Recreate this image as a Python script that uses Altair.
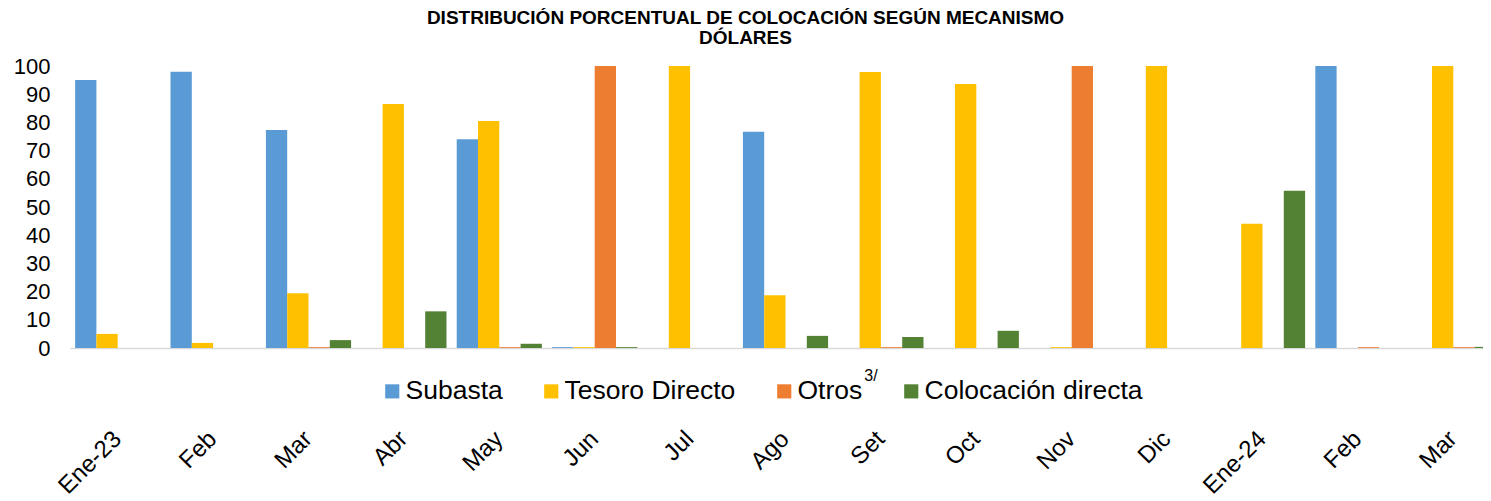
import altair as alt
import pandas as pd

# ---- data ----
meses = ["Ene-23", "Feb", "Mar", "Abr", "May", "Jun", "Jul", "Ago", "Set",
         "Oct", "Nov", "Dic", "Ene-24", "Feb", "Mar"]
series = ["Subasta", "Tesoro Directo", "Otros", "Colocación directa"]
colores = ["#5B9BD5", "#FFC000", "#ED7D31", "#548235"]

subasta = [95.0, 98.0, 77.3, 0.0, 74.0, 0.3, 0.0, 76.7, 0.0, 0.0, 0.0, 0.0, 0.0, 100.0, 0.0]
tesoro = [5.0, 1.8, 19.4, 86.5, 80.5, 0.3, 100.0, 18.7, 97.9, 93.6, 0.3, 100.0, 44.1, 0.0, 100.0]
otros = [0.0, 0.0, 0.3, 0.0, 0.3, 100.0, 0.0, 0.0, 0.3, 0.0, 100.0, 0.0, 0.0, 0.3, 0.3]
colocacion = [0.0, 0.0, 2.8, 13.0, 1.5, 0.3, 0.0, 4.3, 3.9, 6.1, 0.0, 0.0, 55.8, 0.0, 0.4]

titulo = ["DISTRIBUCIÓN PORCENTUAL DE COLOCACIÓN SEGÚN MECANISMO", "DÓLARES"]
y_ticks = [0, 10, 20, 30, 40, 50, 60, 70, 80, 90, 100]

rows = []
for serie, valores in zip(series, [subasta, tesoro, otros, colocacion]):
    for i, v in enumerate(valores):
        rows.append({"idx": i, "serie": serie, "valor": v})
df = pd.DataFrame(rows)

label_expr = "[" + ",".join("'" + m + "'" for m in meses) + "][datum.value]"
FONT = "Liberation Sans"

bars = alt.Chart(df).mark_bar().encode(
    x=alt.X(
        "idx:O",
        scale=alt.Scale(range=[0, 1431], paddingInner=0, paddingOuter=0),
        axis=alt.Axis(
            title=None,
            labelExpr=label_expr,
            labelAngle=-45,
            labelAlign="right",
            labelBaseline="middle",
            labelPadding=87,
            labelFontSize=24,
            labelFont=FONT,
            labelColor="#000000",
            ticks=False,
            domainColor="#D9D9D9",
            domainWidth=1.5,
            grid=False,
        ),
    ),
    xOffset=alt.XOffset(
        "serie:N", sort=series,
        scale=alt.Scale(paddingInner=0, paddingOuter=0.24),
    ),
    y=alt.Y(
        "valor:Q",
        scale=alt.Scale(domain=[0, 100], nice=False),
        axis=alt.Axis(
            title=None,
            values=y_ticks,
            labelFontSize=22,
            labelFont=FONT,
            labelColor="#000000",
            labelPadding=20,
            domain=False,
            ticks=False,
            grid=False,
        ),
    ),
    color=alt.Color(
        "serie:N",
        sort=series,
        scale=alt.Scale(domain=series, range=colores),
        legend=alt.Legend(
            title=None,
            orient="none",
            legendX=309,
            legendY=312,
            direction="horizontal",
            symbolType="square",
            symbolSize=200,
            symbolStrokeWidth=0,
            labelFontSize=26.5,
            labelFont=FONT,
            labelColor="#000000",
            labelOffset=0,
            columnPadding=35,
            labelLimit=400,
        ),
    ),
)

sup = alt.Chart(pd.DataFrame({"t": ["3/"]})).mark_text(
    fontSize=16, font=FONT, color="#000000", align="center", baseline="middle"
).encode(x=alt.value(801), y=alt.value(310), text="t:N")

chart = alt.layer(bars, sup).properties(
    width=1413,
    height=282,
    title=alt.TitleParams(
        text=titulo,
        font=FONT,
        fontSize=19,
        fontWeight="bold",
        color="#000000",
        anchor="middle",
        dx=-31,
        lineHeight=20,
        offset=7,
    ),
    autosize=alt.AutoSizeParams(type="none"),
    padding={"left": 62, "top": 58, "right": 0, "bottom": 152},
    background="#FFFFFF",
).configure_view(stroke=None)

chart.save("out.html", embed_options={"renderer": "svg", "actions": False})
